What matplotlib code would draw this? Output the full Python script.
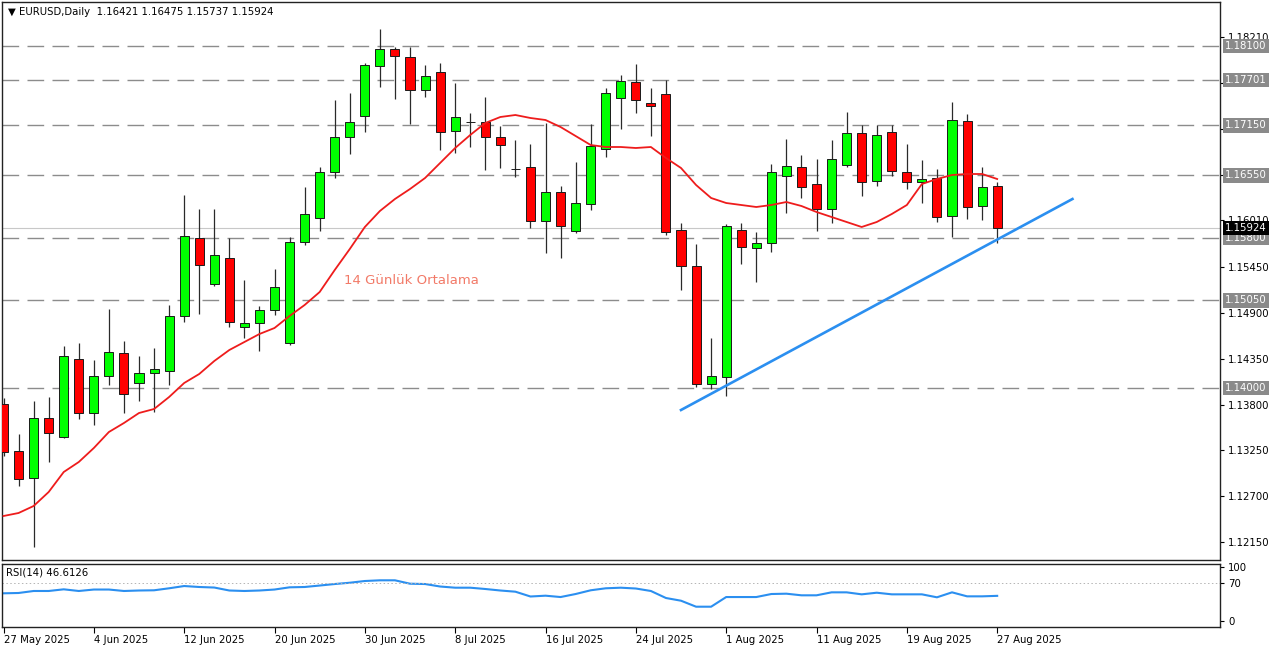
import numpy as np
import matplotlib
matplotlib.use('Agg')
import matplotlib.pyplot as plt

# EURUSD daily, 27 May 2025 - 27 Aug 2025
opens = [1.13808, 1.13244, 1.12920, 1.13640, 1.13412, 1.14348, 1.13700, 1.14144, 1.14420, 1.14060,
         1.14180, 1.14204, 1.14864, 1.15800, 1.15248, 1.15560, 1.14732, 1.14780, 1.14936, 1.14540,
         1.15752, 1.16040, 1.16592, 1.17012, 1.17264, 1.17864, 1.18068, 1.17972, 1.17576, 1.17792,
         1.17084, 1.17192, 1.17192, 1.17012, 1.16628, 1.16652, 1.16004, 1.16352, 1.15884, 1.16208,
         1.16868, 1.17480, 1.17672, 1.17420, 1.17528, 1.15896, 1.15464, 1.14048, 1.14132, 1.15896,
         1.15680, 1.15740, 1.16544, 1.16652, 1.16448, 1.16148, 1.16676, 1.17060, 1.16484, 1.17072,
         1.16592, 1.16472, 1.16520, 1.16064, 1.17204, 1.16184, 1.16421]
highs = [1.13880, 1.13448, 1.13844, 1.13892, 1.14504, 1.14540, 1.14336, 1.14948, 1.14564, 1.14384,
         1.14480, 1.14996, 1.16316, 1.16148, 1.16148, 1.15800, 1.15296, 1.14984, 1.15428, 1.15812,
         1.16412, 1.16652, 1.17456, 1.17540, 1.17900, 1.18308, 1.18092, 1.18092, 1.17876, 1.17900,
         1.17660, 1.17300, 1.17492, 1.17144, 1.16976, 1.16928, 1.17180, 1.16424, 1.16712, 1.17168,
         1.17600, 1.17756, 1.17888, 1.17600, 1.17696, 1.15980, 1.15728, 1.14600, 1.15968, 1.15980,
         1.15872, 1.16688, 1.16988, 1.16796, 1.16748, 1.16976, 1.17312, 1.17156, 1.17156, 1.17156,
         1.16928, 1.16736, 1.16628, 1.17432, 1.17288, 1.16652, 1.16475]
lows = [1.13184, 1.12824, 1.12092, 1.13112, 1.13400, 1.13628, 1.13556, 1.14036, 1.13700, 1.13844,
        1.13712, 1.14036, 1.14792, 1.14888, 1.15224, 1.14732, 1.14600, 1.14444, 1.14876, 1.14516,
        1.15716, 1.15884, 1.16520, 1.16808, 1.17072, 1.17612, 1.17468, 1.17168, 1.17492, 1.16856,
        1.16820, 1.16892, 1.16616, 1.16640, 1.16532, 1.15920, 1.15620, 1.15560, 1.15860, 1.16136,
        1.16772, 1.17108, 1.17300, 1.17024, 1.15836, 1.15176, 1.14012, 1.13988, 1.13904, 1.15488,
        1.15272, 1.15632, 1.16100, 1.16280, 1.15884, 1.15980, 1.16652, 1.16304, 1.16424, 1.16544,
        1.16388, 1.16220, 1.15992, 1.15812, 1.16028, 1.16016, 1.15737]
closes = [1.13232, 1.12908, 1.13640, 1.13460, 1.14384, 1.13700, 1.14144, 1.14432, 1.13928, 1.14180,
          1.14228, 1.14864, 1.15824, 1.15476, 1.15596, 1.14792, 1.14780, 1.14936, 1.15212, 1.15752,
          1.16088, 1.16592, 1.17012, 1.17192, 1.17876, 1.18068, 1.17984, 1.17576, 1.17744, 1.17072,
          1.17252, 1.17192, 1.17012, 1.16916, 1.16628, 1.16004, 1.16352, 1.15944, 1.16220, 1.16904,
          1.17540, 1.17684, 1.17456, 1.17384, 1.15872, 1.15464, 1.14048, 1.14144, 1.15944, 1.15692,
          1.15740, 1.16592, 1.16664, 1.16412, 1.16148, 1.16748, 1.17060, 1.16472, 1.17036, 1.16604,
          1.16472, 1.16508, 1.16052, 1.17216, 1.16172, 1.16412, 1.15924]

# 14 day moving average
ma14 = [1.12464, 1.12500, 1.12584, 1.12752, 1.12992, 1.13112, 1.13280, 1.13472, 1.13580, 1.13700,
        1.13748, 1.13892, 1.14060, 1.14168, 1.14324, 1.14456, 1.14552, 1.14648, 1.14720, 1.14864,
        1.14996, 1.15152, 1.15416, 1.15668, 1.15932, 1.16124, 1.16268, 1.16388, 1.16520, 1.16700,
        1.16880, 1.17036, 1.17180, 1.17252, 1.17276, 1.17240, 1.17216, 1.17132, 1.17024, 1.16916,
        1.16892, 1.16892, 1.16880, 1.16892, 1.16760, 1.16640, 1.16436, 1.16280, 1.16220, 1.16196,
        1.16172, 1.16196, 1.16232, 1.16184, 1.16112, 1.16052, 1.15992, 1.15932, 1.15992, 1.16088,
        1.16196, 1.16448, 1.16508, 1.16556, 1.16568, 1.16568, 1.16508]

rsi14 = [51.3, 51.9, 55.6, 55.6, 58.7, 55.6, 58.3, 58.3, 55.6, 56.5,
         56.9, 60.6, 64.8, 63.0, 62.0, 56.5, 55.6, 56.5, 58.3, 62.4,
         63.0, 65.7, 68.5, 70.9, 74.1, 75.4, 75.4, 69.1, 68.5, 63.9,
         61.7, 61.7, 59.3, 56.5, 54.3, 45.4, 46.9, 44.4, 50.0, 56.9,
         60.6, 61.7, 60.2, 55.6, 42.6, 37.6, 26.5, 26.5, 44.4, 44.4,
         44.4, 50.0, 50.6, 47.6, 47.6, 53.1, 53.1, 49.4, 52.4, 49.4,
         49.4, 49.4, 43.9, 53.1, 45.7, 45.7, 46.61]

date_labels = ['27 May 2025', '4 Jun 2025', '12 Jun 2025', '20 Jun 2025', '30 Jun 2025',
               '8 Jul 2025', '16 Jul 2025', '24 Jul 2025', '1 Aug 2025', '11 Aug 2025',
               '19 Aug 2025', '27 Aug 2025']
price_ticks = [1.18210, 1.17660, 1.17110, 1.16560, 1.16010, 1.15450, 1.14900, 1.14350,
               1.13800, 1.13250, 1.12700, 1.12150]
hidden_ticks = [1.17660, 1.17110, 1.16560]   # covered by the level labels
levels = [1.18100, 1.17701, 1.17150, 1.16550, 1.15800, 1.15050, 1.14000]
trend_x = [45, 71]
trend_y = [1.13736, 1.16268]
last_price = 1.15924

plt.rcParams['font.family'] = ['DejaVu Sans']
fs = 7.3

fig = plt.figure(figsize=(12.8, 6.5), dpi=100)
W, H = 1280, 650
ax = fig.add_axes([2 / W, 1 - 560 / H, 1218 / W, 558 / H])
axr = fig.add_axes([2 / W, 1 - 627 / H, 1218 / W, 63 / H], sharex=ax)

x = np.arange(len(opens))
o = np.array(opens)
c = np.array(closes)
up = c >= o
body_lo = np.minimum(o, c)
body_h = np.abs(c - o)
colors = np.where(up, '#00ff00', '#ff0000')

# horizontal levels
for lv in levels:
    ax.axhline(lv, color='#8c8c8c', lw=1.0, ls=(0, (12, 6)), zorder=1)
ax.axhline(last_price, color='#c8c8c8', lw=0.8, zorder=1)

# candles
ax.vlines(x, lows, highs, color='#2a2a2a', lw=0.9, zorder=2)
ax.bar(x, body_h, bottom=body_lo, width=0.6, color=colors, edgecolor='#1a1a1a', lw=0.7, zorder=3)

ax.plot(x, ma14, color='#ee1c1c', lw=1.3, zorder=4)
ax.plot(trend_x, trend_y, color='#2b8ff0', lw=1.9, zorder=5)
ax.text(22.6, 1.15284, '14 Günlük Ortalama', color='#f27a68', fontsize=9.5, va='center', ha='left')

ax.set_xlim(-0.1, 80.8)
ax.set_ylim(1.11936, 1.18632)
ax.set_yticks(price_ticks)
ax.set_yticklabels(['' if t in hidden_ticks else '%.5f' % t for t in price_ticks])
ax.yaxis.tick_right()
ax.tick_params(axis='y', direction='out', length=3, labelsize=fs, pad=3, colors='black')
ax.tick_params(axis='x', bottom=False, labelbottom=False)

ytr = ax.get_yaxis_transform()
for lv in levels:
    ax.text(1.0 + 5 / 1218, lv, '%.5f' % lv, transform=ytr, va='center', ha='left', color='white',
            fontsize=fs, clip_on=False, zorder=10,
            bbox=dict(boxstyle='square,pad=0.2', fc='#8a8a8a', ec='none'))
ax.text(1.0 + 5 / 1218, last_price, '%.5f' % last_price, transform=ytr, va='center', ha='left',
        color='white', fontsize=fs, clip_on=False, zorder=11,
        bbox=dict(boxstyle='square,pad=0.2', fc='black', ec='none'))

ax.text(6 / 1218, 1 - 10 / 558, '\u25bc EURUSD,Daily  1.16421 1.16475 1.15737 1.15924',
        transform=ax.transAxes, fontsize=fs, va='center', ha='left')

# RSI panel
axr.plot(x, rsi14, color='#2b8ff0', lw=1.5)
axr.axhline(70, color='#b4b4b4', lw=0.7, ls=(0, (1.5, 2.5)))
axr.set_ylim(-11.1, 105.6)
axr.yaxis.tick_right()
axr.set_yticks([0, 70, 100])
axr.set_yticklabels(['0', '70', '100'])
axr.tick_params(axis='y', direction='out', length=3, labelsize=fs, pad=3)
axr.set_xticks(np.arange(0, len(opens), 6))
axr.set_xticklabels(date_labels)
axr.tick_params(axis='x', direction='out', length=4, labelsize=fs, pad=2)
for lab in axr.get_xticklabels():
    lab.set_ha('left')
axr.text(4 / 1218, 0.87, 'RSI(14) 46.6126', transform=axr.transAxes, fontsize=fs, va='center')

for a in (ax, axr):
    for s in a.spines.values():
        s.set_color('#222222')
        s.set_linewidth(1.0)

fig.savefig('out.png', dpi=100)
